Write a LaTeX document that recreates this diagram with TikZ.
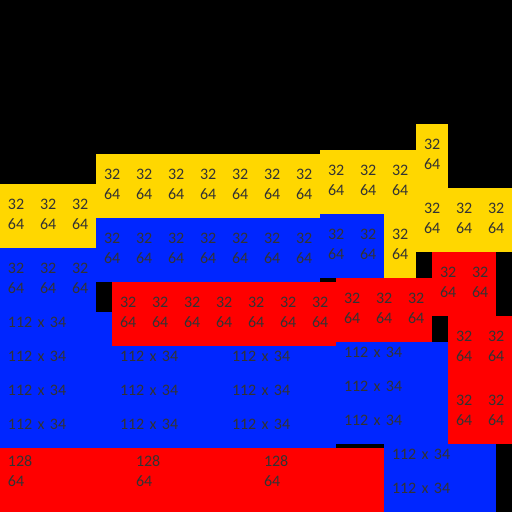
\documentclass[tikz,border=0pt]{standalone}
\usepackage{fontspec}
\setmainfont{Carlito}
\usepackage{xcolor}
\usepackage{tikz}
\definecolor{ylw}{RGB}{255,215,0}
\definecolor{blu}{RGB}{0,38,255}
\definecolor{rd}{RGB}{255,0,0}
\definecolor{ink}{RGB}{51,51,51}

\begin{document}
\begin{tikzpicture}[
    x=1pt, y=-1pt,
    font=\fontsize{16}{20}\selectfont,
    tile/.style={fill=#1, anchor=north west, align=left, text=ink, inner xsep=8pt, inner ysep=0pt, outer sep=0pt},
    cell/.style={tile=#1, text width=16pt, text height=25.7pt, text depth=38.3pt},
    strip/.style={tile=#1, text width=96pt, text height=15.7pt, text depth=18.3pt},
    slab/.style={tile=#1, text width=112pt, text height=18.3pt, text depth=45.7pt},
]
    % Background
    \fill[black] (0,0) rectangle (512,512);

    % Yellow cells
    \foreach \i in {0,1,2} \node[cell=ylw] (ylwA-\i) at (32*\i,184) {32\\64};
    \foreach \i in {0,...,6} \node[cell=ylw] (ylwB-\i) at (96+32*\i,154) {32\\64};
    \foreach \i in {0,1,2} \node[cell=ylw] (ylwC-\i) at (320+32*\i,150) {32\\64};
    \node[cell=ylw] (ylwD) at (416,124) {32\\64};
    \node[cell=ylw] (ylwE) at (384,214) {32\\64};
    \foreach \i in {0,1,2} \node[cell=ylw] (ylwF-\i) at (416+32*\i,188) {32\\64};

    % Blue cells
    \foreach \i in {0,...,6} \node[cell=blu] (bluA-\i) at (96+32*\i,218) {32\\64};
    \foreach \i in {0,1,2} \node[cell=blu] (bluB-\i) at (32*\i,248) {32\\64};
    \foreach \i in {0,1} \node[cell=blu] (bluC-\i) at (320+32*\i,214) {32\\64};

    % Red cells
    \foreach \i in {0,...,6} \node[cell=rd] (rdA-\i) at (112+32*\i,282) {32\\64};
    \foreach \i in {0,1,2} \node[cell=rd] (rdB-\i) at (336+32*\i,278) {32\\64};
    \foreach \i in {0,1} \node[cell=rd] (rdC-\i) at (432+32*\i,252) {32\\64};
    \foreach \i in {0,1} \node[cell=rd] (rdD-\i) at (448+32*\i,316) {32\\64};
    \foreach \i in {0,1} \node[cell=rd] (rdE-\i) at (448+32*\i,380) {32\\64};

    % Blue strips
    \foreach \y in {312,346,380,414} \node[strip=blu] (barA-\y) at (0,\y) {112 x 34};
    \foreach \y in {346,380,414} \node[strip=blu] (barB-\y) at (112,\y) {112 x 34};
    \foreach \y in {346,380,414} \node[strip=blu] (barC-\y) at (224,\y) {112 x 34};
    \foreach \y in {342,376,410} \node[strip=blu] (barD-\y) at (336,\y) {112 x 34};
    \foreach \y in {444,478} \node[strip=blu] (barE-\y) at (384,\y) {112 x 34};

    % Red slabs
    \foreach \i in {0,1,2} \node[slab=rd] (slab-\i) at (128*\i,448) {128\\64};

\end{tikzpicture}
\end{document}
